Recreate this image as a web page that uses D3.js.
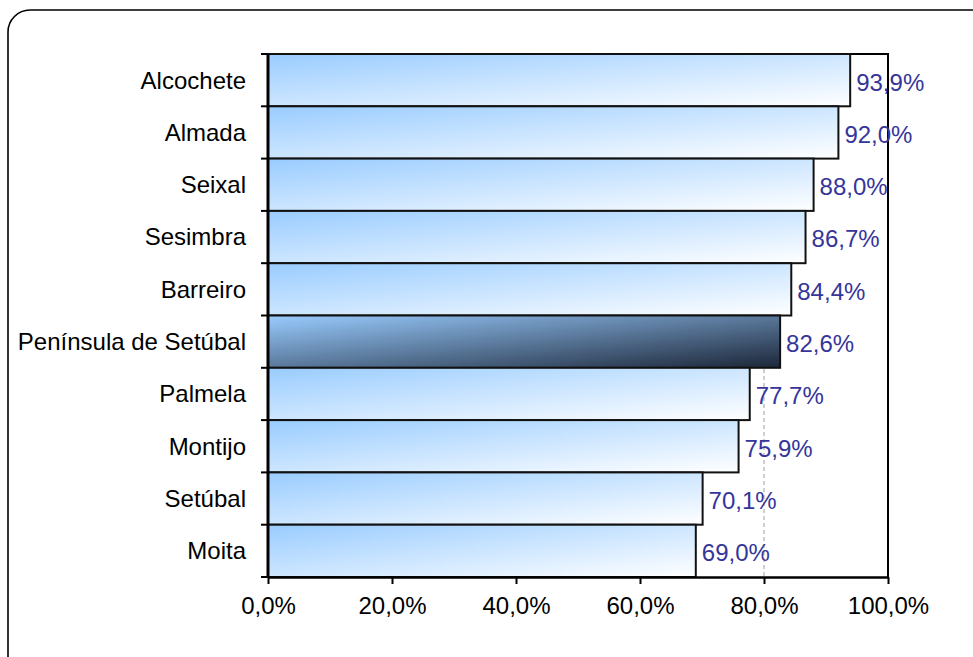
<!DOCTYPE html>
<html>
<head>
<meta charset="utf-8">
<script src="https://cdn.jsdelivr.net/npm/d3@7"></script>
<style>
  body { margin: 0; background: #fff; }
  svg { display: block; font-family: "Liberation Sans", Arial, sans-serif; }
</style>
</head>
<body>
<div id="chart"></div>
<script>
var categories = ["Alcochete", "Almada", "Seixal", "Sesimbra", "Barreiro",
                  "Península de Setúbal", "Palmela", "Montijo", "Setúbal", "Moita"];
var values = [93.9, 92.0, 88.0, 86.7, 84.4, 82.6, 77.7, 75.9, 70.1, 69.0];
var highlight = "Península de Setúbal";
var xTicks = [0, 20, 40, 60, 80, 100];

var W = 973, H = 657;
var margin = {top: 54, right: 85, bottom: 80, left: 268},
    width = W - margin.left - margin.right,
    height = H - margin.top - margin.bottom;

var data = categories.map(function(c, i) { return {name: c, value: values[i]}; });

var svg = d3.select("#chart")
    .append("svg")
    .attr("width", W)
    .attr("height", H);

// outer rounded frame (runs off the right and bottom edges)
svg.append("rect")
    .attr("x", 8).attr("y", 10)
    .attr("width", 1020).attr("height", 720)
    .attr("rx", 22).attr("ry", 22)
    .attr("fill", "#fff")
    .attr("stroke", "#000")
    .attr("stroke-width", 1.6);

var defs = svg.append("defs");
var g1 = defs.append("linearGradient").attr("id", "barFill")
    .attr("x1", 0).attr("y1", 0).attr("x2", 1).attr("y2", 1);
g1.append("stop").attr("offset", "0%").attr("stop-color", "#99ccff");
g1.append("stop").attr("offset", "100%").attr("stop-color", "#ffffff");

var g2 = defs.append("linearGradient").attr("id", "hiFill")
    .attr("x1", 0).attr("y1", 0).attr("x2", 1).attr("y2", 1);
g2.append("stop").attr("offset", "0%").attr("stop-color", "#99ccff");
g2.append("stop").attr("offset", "100%").attr("stop-color", "#1c2638");

var g = svg.append("g")
    .attr("transform", "translate(" + margin.left + "," + margin.top + ")");

var x = d3.scaleLinear()
    .domain([0, 100])
    .range([0, width]);

var y = d3.scaleBand()
    .domain(categories)
    .range([0, height])
    .padding(0);

// gridlines
g.selectAll(".grid")
    .data(xTicks.filter(function(t) { return t > 0 && t < 100; }))
    .enter()
    .append("line")
    .attr("x1", function(d) { return x(d); })
    .attr("x2", function(d) { return x(d); })
    .attr("y1", 0)
    .attr("y2", height)
    .attr("stroke", "#b0b0b0")
    .attr("stroke-width", 1.2)
    .attr("stroke-dasharray", "4,3");

// plot border top/right
g.append("path")
    .attr("d", "M0,0H" + width + "V" + height)
    .attr("fill", "none")
    .attr("stroke", "#000")
    .attr("stroke-width", 2);

// bars
g.selectAll(".bar")
    .data(data)
    .enter()
    .append("rect")
    .attr("x", 0)
    .attr("y", function(d) { return y(d.name); })
    .attr("width", function(d) { return x(d.value); })
    .attr("height", y.bandwidth())
    .attr("fill", function(d) { return d.name == highlight ? "url(#hiFill)" : "url(#barFill)"; })
    .attr("stroke", "#111")
    .attr("stroke-width", 2);

// value labels
g.selectAll(".lbl")
    .data(data)
    .enter()
    .append("text")
    .attr("x", function(d) { return x(d.value) + 6; })
    .attr("y", function(d) { return y(d.name) + y.bandwidth() / 2 + 2; })
    .attr("dy", "0.35em")
    .attr("fill", "#35359a")
    .style("font-size", "24px")
    .text(function(d) { return d.value.toFixed(1).replace(".", ",") + "%"; });

// x axis
var xAxis = g.append("g")
    .attr("transform", "translate(0," + height + ")")
    .call(d3.axisBottom(x).tickValues(xTicks).tickSize(7).tickSizeOuter(0)
        .tickFormat(function(d) { return d.toFixed(1).replace(".", ",") + "%"; }));
xAxis.select(".domain").attr("stroke", "#000").attr("stroke-width", 2.5);
xAxis.selectAll(".tick line").attr("stroke", "#000").attr("stroke-width", 2);
xAxis.selectAll("text")
    .attr("y", 20)
    .attr("dy", "0.71em")
    .attr("fill", "#000")
    .style("font-size", "24px")
    .style("font-family", "'Liberation Sans', Arial, sans-serif");

// y axis: ticks sit between categories
var yAxis = g.append("g");
yAxis.append("line")
    .attr("x1", 0).attr("x2", 0)
    .attr("y1", 0).attr("y2", height)
    .attr("stroke", "#000")
    .attr("stroke-width", 3);
yAxis.selectAll(".ytick")
    .data(d3.range(categories.length + 1))
    .enter()
    .append("line")
    .attr("x1", -7).attr("x2", 0)
    .attr("y1", function(i) { return i * y.step(); })
    .attr("y2", function(i) { return i * y.step(); })
    .attr("stroke", "#000")
    .attr("stroke-width", 2);
yAxis.selectAll(".ylab")
    .data(categories)
    .enter()
    .append("text")
    .attr("x", -22)
    .attr("y", function(d) { return y(d) + y.bandwidth() / 2; })
    .attr("dy", "0.35em")
    .attr("text-anchor", "end")
    .attr("fill", "#000")
    .style("font-size", "24px")
    .text(function(d) { return d; });
</script>
</body>
</html>
